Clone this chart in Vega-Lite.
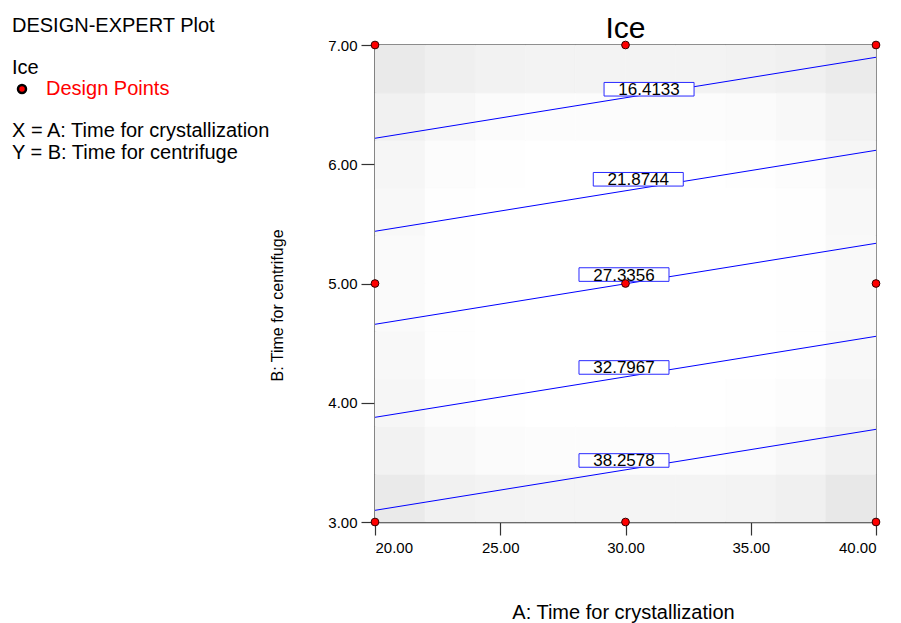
{
  "$schema": "https://vega.github.io/schema/vega-lite/v6.json",
  "width": 501,
  "height": 477,
  "autosize": {"type": "none"},
  "padding": {"left": 375, "top": 45, "right": 25, "bottom": 101},
  "background": "white",
  "title": {"text": "Ice", "font": "Liberation Sans", "fontSize": 30, "fontWeight": "normal", "color": "#000000", "anchor": "middle", "frame": "group", "baseline": "alphabetic", "offset": 0, "dy": 52},
  "config": {
    "view": {"stroke": "#333333", "strokeWidth": 1.5},
    "axis": {"labelFont": "Liberation Sans", "labelFontSize": 15, "labelColor": "#000000", "titleFont": "Liberation Sans", "titleFontWeight": "normal", "titleColor": "#000000", "domainColor": "#333333", "domainWidth": 1.5, "tickColor": "#333333", "tickWidth": 1.2, "grid": false}
  },
  "datasets": {
    "shade": [
      {"a0":20,"a1":22,"b0":3,"b1":3.4,"s":21},{"a0":22,"a1":24,"b0":3,"b1":3.4,"s":14},{"a0":24,"a1":26,"b0":3,"b1":3.4,"s":12},{"a0":26,"a1":28,"b0":3,"b1":3.4,"s":11},{"a0":28,"a1":30,"b0":3,"b1":3.4,"s":11},{"a0":30,"a1":32,"b0":3,"b1":3.4,"s":11},{"a0":32,"a1":34,"b0":3,"b1":3.4,"s":11},{"a0":34,"a1":36,"b0":3,"b1":3.4,"s":12},{"a0":36,"a1":38,"b0":3,"b1":3.4,"s":15},{"a0":38,"a1":40,"b0":3,"b1":3.4,"s":23},
      {"a0":20,"a1":22,"b0":3.4,"b1":3.8,"s":13},{"a0":22,"a1":24,"b0":3.4,"b1":3.8,"s":7},{"a0":24,"a1":26,"b0":3.4,"b1":3.8,"s":4},{"a0":26,"a1":28,"b0":3.4,"b1":3.8,"s":3},{"a0":28,"a1":30,"b0":3.4,"b1":3.8,"s":3},{"a0":30,"a1":32,"b0":3.4,"b1":3.8,"s":3},{"a0":32,"a1":34,"b0":3.4,"b1":3.8,"s":3},{"a0":34,"a1":36,"b0":3.4,"b1":3.8,"s":4},{"a0":36,"a1":38,"b0":3.4,"b1":3.8,"s":8},{"a0":38,"a1":40,"b0":3.4,"b1":3.8,"s":14},
      {"a0":20,"a1":22,"b0":3.8,"b1":4.2,"s":9},{"a0":22,"a1":24,"b0":3.8,"b1":4.2,"s":3},{"a0":24,"a1":26,"b0":3.8,"b1":4.2,"s":1},{"a0":26,"a1":28,"b0":3.8,"b1":4.2,"s":0},{"a0":28,"a1":30,"b0":3.8,"b1":4.2,"s":0},{"a0":30,"a1":32,"b0":3.8,"b1":4.2,"s":0},{"a0":32,"a1":34,"b0":3.8,"b1":4.2,"s":0},{"a0":34,"a1":36,"b0":3.8,"b1":4.2,"s":1},{"a0":36,"a1":38,"b0":3.8,"b1":4.2,"s":3},{"a0":38,"a1":40,"b0":3.8,"b1":4.2,"s":10},
      {"a0":20,"a1":22,"b0":4.2,"b1":4.6,"s":7},{"a0":22,"a1":24,"b0":4.2,"b1":4.6,"s":1},{"a0":24,"a1":26,"b0":4.2,"b1":4.6,"s":0},{"a0":26,"a1":28,"b0":4.2,"b1":4.6,"s":0},{"a0":28,"a1":30,"b0":4.2,"b1":4.6,"s":0},{"a0":30,"a1":32,"b0":4.2,"b1":4.6,"s":0},{"a0":32,"a1":34,"b0":4.2,"b1":4.6,"s":0},{"a0":34,"a1":36,"b0":4.2,"b1":4.6,"s":0},{"a0":36,"a1":38,"b0":4.2,"b1":4.6,"s":1},{"a0":38,"a1":40,"b0":4.2,"b1":4.6,"s":7},
      {"a0":20,"a1":22,"b0":4.6,"b1":5,"s":5},{"a0":22,"a1":24,"b0":4.6,"b1":5,"s":1},{"a0":24,"a1":26,"b0":4.6,"b1":5,"s":0},{"a0":26,"a1":28,"b0":4.6,"b1":5,"s":0},{"a0":28,"a1":30,"b0":4.6,"b1":5,"s":0},{"a0":30,"a1":32,"b0":4.6,"b1":5,"s":0},{"a0":32,"a1":34,"b0":4.6,"b1":5,"s":0},{"a0":34,"a1":36,"b0":4.6,"b1":5,"s":0},{"a0":36,"a1":38,"b0":4.6,"b1":5,"s":1},{"a0":38,"a1":40,"b0":4.6,"b1":5,"s":6},
      {"a0":20,"a1":22,"b0":5,"b1":5.4,"s":5},{"a0":22,"a1":24,"b0":5,"b1":5.4,"s":1},{"a0":24,"a1":26,"b0":5,"b1":5.4,"s":0},{"a0":26,"a1":28,"b0":5,"b1":5.4,"s":0},{"a0":28,"a1":30,"b0":5,"b1":5.4,"s":0},{"a0":30,"a1":32,"b0":5,"b1":5.4,"s":0},{"a0":32,"a1":34,"b0":5,"b1":5.4,"s":0},{"a0":34,"a1":36,"b0":5,"b1":5.4,"s":0},{"a0":36,"a1":38,"b0":5,"b1":5.4,"s":1},{"a0":38,"a1":40,"b0":5,"b1":5.4,"s":6},
      {"a0":20,"a1":22,"b0":5.4,"b1":5.8,"s":7},{"a0":22,"a1":24,"b0":5.4,"b1":5.8,"s":1},{"a0":24,"a1":26,"b0":5.4,"b1":5.8,"s":0},{"a0":26,"a1":28,"b0":5.4,"b1":5.8,"s":0},{"a0":28,"a1":30,"b0":5.4,"b1":5.8,"s":0},{"a0":30,"a1":32,"b0":5.4,"b1":5.8,"s":0},{"a0":32,"a1":34,"b0":5.4,"b1":5.8,"s":0},{"a0":34,"a1":36,"b0":5.4,"b1":5.8,"s":0},{"a0":36,"a1":38,"b0":5.4,"b1":5.8,"s":1},{"a0":38,"a1":40,"b0":5.4,"b1":5.8,"s":7},
      {"a0":20,"a1":22,"b0":5.8,"b1":6.2,"s":9},{"a0":22,"a1":24,"b0":5.8,"b1":6.2,"s":3},{"a0":24,"a1":26,"b0":5.8,"b1":6.2,"s":1},{"a0":26,"a1":28,"b0":5.8,"b1":6.2,"s":0},{"a0":28,"a1":30,"b0":5.8,"b1":6.2,"s":0},{"a0":30,"a1":32,"b0":5.8,"b1":6.2,"s":0},{"a0":32,"a1":34,"b0":5.8,"b1":6.2,"s":0},{"a0":34,"a1":36,"b0":5.8,"b1":6.2,"s":1},{"a0":36,"a1":38,"b0":5.8,"b1":6.2,"s":3},{"a0":38,"a1":40,"b0":5.8,"b1":6.2,"s":9},
      {"a0":20,"a1":22,"b0":6.2,"b1":6.6,"s":14},{"a0":22,"a1":24,"b0":6.2,"b1":6.6,"s":8},{"a0":24,"a1":26,"b0":6.2,"b1":6.6,"s":4},{"a0":26,"a1":28,"b0":6.2,"b1":6.6,"s":3},{"a0":28,"a1":30,"b0":6.2,"b1":6.6,"s":3},{"a0":30,"a1":32,"b0":6.2,"b1":6.6,"s":3},{"a0":32,"a1":34,"b0":6.2,"b1":6.6,"s":3},{"a0":34,"a1":36,"b0":6.2,"b1":6.6,"s":4},{"a0":36,"a1":38,"b0":6.2,"b1":6.6,"s":7},{"a0":38,"a1":40,"b0":6.2,"b1":6.6,"s":13},
      {"a0":20,"a1":22,"b0":6.6,"b1":7,"s":21},{"a0":22,"a1":24,"b0":6.6,"b1":7,"s":16},{"a0":24,"a1":26,"b0":6.6,"b1":7,"s":13},{"a0":26,"a1":28,"b0":6.6,"b1":7,"s":12},{"a0":28,"a1":30,"b0":6.6,"b1":7,"s":12},{"a0":30,"a1":32,"b0":6.6,"b1":7,"s":12},{"a0":32,"a1":34,"b0":6.6,"b1":7,"s":12},{"a0":34,"a1":36,"b0":6.6,"b1":7,"s":13},{"a0":36,"a1":38,"b0":6.6,"b1":7,"s":15},{"a0":38,"a1":40,"b0":6.6,"b1":7,"s":20}
    ],
    "contours": [
      {"level":"16.4133","a":20,"b":6.218},{"level":"16.4133","a":40,"b":6.897},
      {"level":"21.8744","a":20,"b":5.438},{"level":"21.8744","a":40,"b":6.117},
      {"level":"27.3356","a":20,"b":4.658},{"level":"27.3356","a":40,"b":5.337},
      {"level":"32.7967","a":20,"b":3.878},{"level":"32.7967","a":40,"b":4.557},
      {"level":"38.2578","a":20,"b":3.098},{"level":"38.2578","a":40,"b":3.777}
    ],
    "labels": [
      {"level":"16.4133","a":30.94,"b":6.629},
      {"level":"21.8744","a":30.51,"b":5.874},
      {"level":"27.3356","a":29.94,"b":5.075},
      {"level":"32.7967","a":29.94,"b":4.296},
      {"level":"38.2578","a":29.94,"b":3.516}
    ],
    "design": [
      {"a":20,"b":3,"type":"Design Points"},{"a":30,"b":3,"type":"Design Points"},{"a":40,"b":3,"type":"Design Points"},
      {"a":20,"b":5,"type":"Design Points"},{"a":30,"b":5,"type":"Design Points"},{"a":40,"b":5,"type":"Design Points"},
      {"a":20,"b":7,"type":"Design Points"},{"a":30,"b":7,"type":"Design Points"},{"a":40,"b":7,"type":"Design Points"}
    ]
  },
  "layer": [
    {
      "data": {"name": "shade"},
      "mark": {"type": "rect", "strokeWidth": 0.6},
      "encoding": {
        "x": {"field": "a0", "type": "quantitative", "scale": {"domain": [20, 40], "nice": false, "zero": false},
          "axis": {"title": "A: Time for crystallization", "values": [20, 25, 30, 35, 40], "format": ".2f", "tickSize": 13, "labelPadding": 5, "titleFontSize": 20, "titleX": 248, "titleY": 96, "titleAlign": "center", "titleBaseline": "alphabetic"}},
        "x2": {"field": "a1"},
        "y": {"field": "b0", "type": "quantitative", "scale": {"domain": [3, 7], "nice": false, "zero": false},
          "axis": {"title": "B: Time for centrifuge", "values": [3, 4, 5, 6, 7], "format": ".2f", "tickSize": 14, "labelPadding": 4, "titleFontSize": 16, "titleX": -98, "titleY": 260, "titleAngle": 270, "titleAlign": "center", "titleBaseline": "middle"}},
        "y2": {"field": "b1"},
        "fill": {"field": "s", "type": "quantitative", "scale": {"domain": [0, 30], "range": ["#ffffff", "#e1e1e1"], "clamp": true}, "legend": null},
        "stroke": {"field": "s", "type": "quantitative", "scale": {"domain": [0, 30], "range": ["#ffffff", "#e1e1e1"], "clamp": true}, "legend": null}
      }
    },
    {
      "data": {"name": "contours"},
      "mark": {"type": "line", "color": "#0000ff", "strokeWidth": 1},
      "encoding": {
        "x": {"field": "a", "type": "quantitative"},
        "y": {"field": "b", "type": "quantitative"},
        "detail": {"field": "level", "type": "nominal"}
      }
    },
    {
      "data": {"name": "labels"},
      "mark": {"type": "point", "filled": true, "fill": "#ffffff", "stroke": "#2a2aff", "strokeWidth": 1, "size": 8100, "opacity": 1},
      "encoding": {
        "x": {"field": "a", "type": "quantitative"},
        "y": {"field": "b", "type": "quantitative"},
        "shape": {"field": "level", "type": "nominal", "scale": {"range": ["M-1,-0.151H1V0.151H-1Z"]},
          "legend": {"orient": "none", "legendX": -363, "legendY": 76, "padding": 0, "title": ["X = A: Time for crystallization", "Y = B: Time for centrifuge"], "titleLimit": 500, "titleFont": "Liberation Sans", "titleFontSize": 20, "titleFontWeight": "normal", "titleColor": "#000000", "titleLineHeight": 22, "symbolOpacity": 0, "labelOpacity": 0, "values": ["16.4133"]}}
      }
    },
    {
      "data": {"name": "labels"},
      "mark": {"type": "text", "font": "Liberation Sans", "fontSize": 17, "color": "#000000", "align": "center", "baseline": "middle", "dy": 1},
      "encoding": {
        "x": {"field": "a", "type": "quantitative"},
        "y": {"field": "b", "type": "quantitative"},
        "text": {"field": "level", "type": "nominal"}
      }
    },
    {
      "data": {"name": "design"},
      "mark": {"type": "point", "filled": true, "size": 60, "stroke": "#330000", "strokeWidth": 1, "opacity": 1},
      "encoding": {
        "x": {"field": "a", "type": "quantitative"},
        "y": {"field": "b", "type": "quantitative"},
        "color": {"field": "type", "type": "nominal", "scale": {"range": ["#ff0000"]},
          "legend": {"orient": "none", "legendX": -363, "legendY": -29, "padding": 0, "title": ["DESIGN-EXPERT Plot", "Ice"], "titleLimit": 500, "titleFont": "Liberation Sans", "titleFontSize": 20, "titleFontWeight": "normal", "titleColor": "#000000", "titleLineHeight": 42, "titlePadding": 1, "labelFont": "Liberation Sans", "labelFontSize": 20, "labelLimit": 400, "labelColor": "#ff0000", "symbolType": "circle", "symbolSize": 64, "symbolStrokeColor": "#000000", "symbolStrokeWidth": 2.5, "symbolFillColor": "#ff0000", "symbolOffset": 0, "labelOffset": 14}}
      }
    }
  ]
}
